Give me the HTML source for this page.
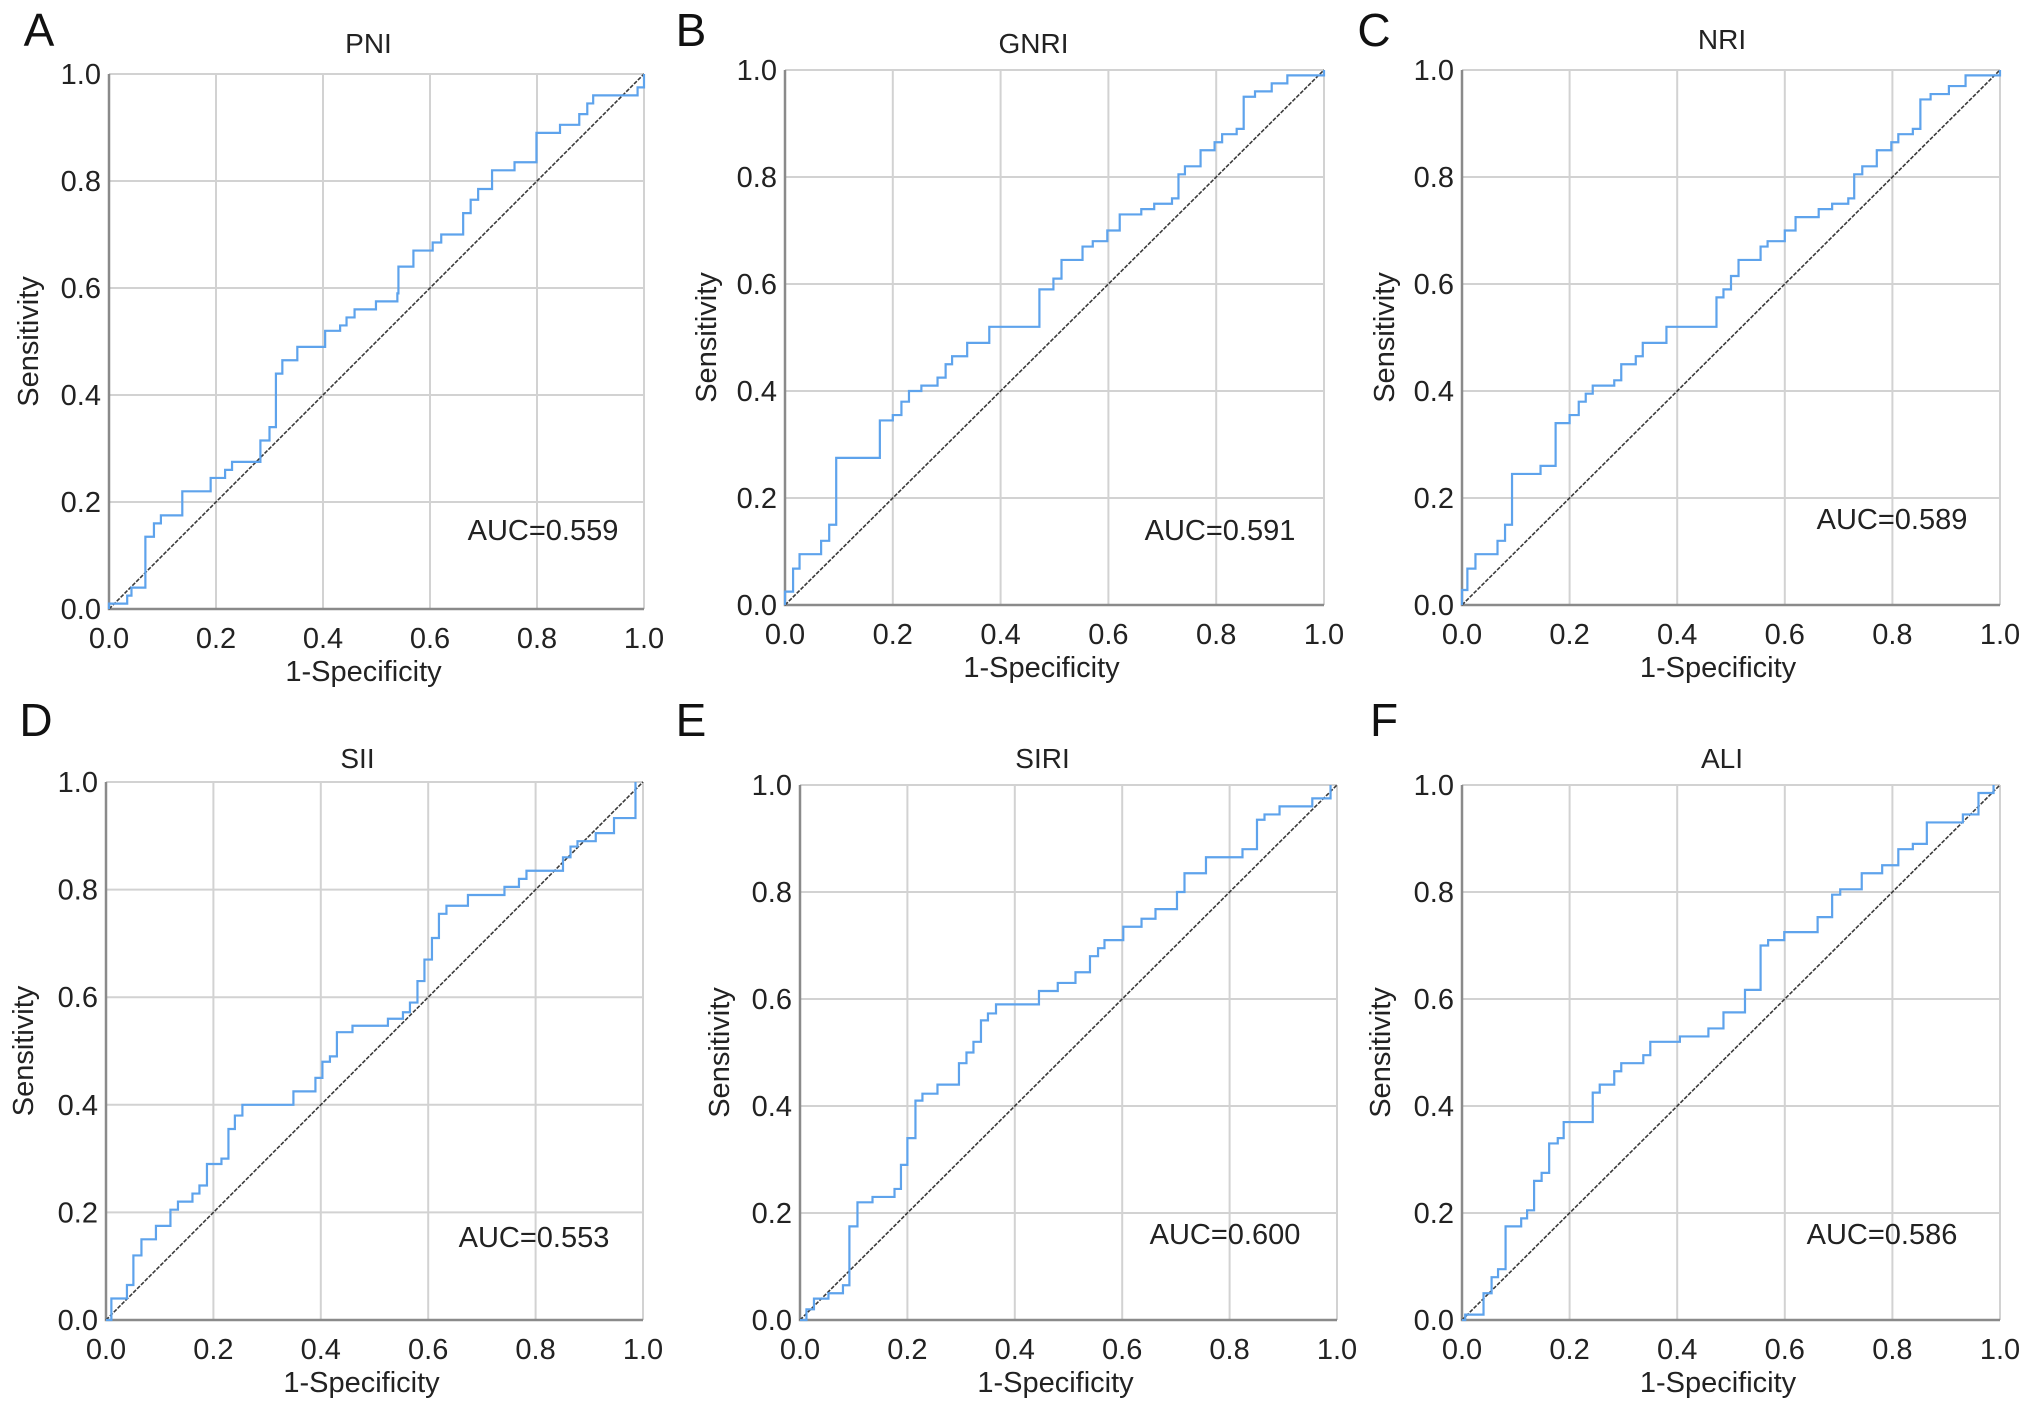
<!DOCTYPE html>
<html><head><meta charset="utf-8">
<style>
html,body{margin:0;padding:0;background:#fff;}
svg{display:block;font-family:"Liberation Sans",Arial,sans-serif;}
</style></head>
<body>
<svg id="fig" width="2032" height="1408" viewBox="0 0 2032 1408" xmlns="http://www.w3.org/2000/svg"></svg>
<script>
// ---- data (1-specificity / sensitivity step vertices) ----
const ticks = [0, 0.2, 0.4, 0.6, 0.8, 1.0];
const tickLabels = ["0.0","0.2","0.4","0.6","0.8","1.0"];
const titles = ["PNI","GNRI","NRI","SII","SIRI","ALI"];
const letters = ["A","B","C","D","E","F"];
const aucLabels = ["AUC=0.559","AUC=0.591","AUC=0.589","AUC=0.553","AUC=0.600","AUC=0.586"];

const fprA = [0,0.034,0.042,0.068,0.084,0.097,0.137,0.19,0.217,0.23,0.283,0.3,0.312,0.324,0.352,0.404,0.432,0.444,0.459,0.499,0.539,0.541,0.569,0.605,0.621,0.662,0.676,0.69,0.716,0.758,0.799,0.843,0.879,0.894,0.905,0.988,1.0];
const tprA = [0.01,0.025,0.04,0.135,0.16,0.175,0.22,0.245,0.26,0.275,0.315,0.34,0.44,0.465,0.49,0.52,0.53,0.545,0.56,0.575,0.59,0.64,0.67,0.685,0.70,0.74,0.765,0.785,0.82,0.835,0.89,0.905,0.925,0.945,0.96,0.975,1.0];

const fprB = [0,0.015,0.027,0.067,0.082,0.095,0.176,0.2,0.216,0.23,0.253,0.283,0.298,0.31,0.338,0.379,0.472,0.498,0.513,0.552,0.571,0.598,0.621,0.661,0.685,0.718,0.73,0.742,0.771,0.797,0.811,0.838,0.851,0.872,0.903,0.932,1.0];
const tprB = [0.025,0.068,0.095,0.12,0.15,0.275,0.345,0.355,0.38,0.40,0.41,0.425,0.45,0.465,0.49,0.52,0.59,0.61,0.645,0.67,0.68,0.70,0.73,0.74,0.75,0.76,0.805,0.82,0.85,0.865,0.88,0.89,0.95,0.96,0.975,0.99,1.0];

const fprC = [0,0.01,0.025,0.066,0.08,0.093,0.146,0.174,0.2,0.217,0.23,0.243,0.283,0.296,0.323,0.336,0.38,0.473,0.486,0.5,0.514,0.555,0.568,0.6,0.62,0.663,0.688,0.718,0.729,0.744,0.771,0.798,0.811,0.838,0.852,0.871,0.905,0.936,1.0];
const tprC = [0.028,0.068,0.095,0.12,0.15,0.245,0.26,0.34,0.355,0.38,0.395,0.41,0.42,0.45,0.465,0.49,0.52,0.575,0.59,0.615,0.645,0.67,0.68,0.70,0.725,0.74,0.75,0.76,0.805,0.82,0.85,0.865,0.88,0.89,0.945,0.955,0.97,0.99,1.0];

const fprD = [0,0.01,0.039,0.051,0.066,0.093,0.12,0.134,0.161,0.174,0.188,0.215,0.228,0.24,0.254,0.349,0.39,0.403,0.417,0.43,0.459,0.525,0.553,0.566,0.58,0.593,0.607,0.62,0.634,0.674,0.742,0.769,0.783,0.851,0.865,0.878,0.912,0.946,0.986];
const tprD = [0,0.04,0.065,0.12,0.15,0.175,0.205,0.22,0.235,0.25,0.29,0.30,0.355,0.38,0.40,0.425,0.45,0.48,0.49,0.535,0.547,0.56,0.572,0.59,0.63,0.67,0.71,0.755,0.77,0.79,0.805,0.82,0.835,0.86,0.88,0.89,0.905,0.933,1.0];

const fprE = [0,0.012,0.026,0.053,0.08,0.092,0.107,0.135,0.176,0.188,0.2,0.215,0.228,0.256,0.296,0.31,0.323,0.337,0.35,0.365,0.445,0.48,0.513,0.54,0.555,0.567,0.602,0.636,0.662,0.702,0.716,0.756,0.824,0.851,0.865,0.893,0.954,0.988];
const tprE = [0,0.02,0.04,0.05,0.065,0.175,0.22,0.23,0.245,0.29,0.34,0.41,0.423,0.44,0.48,0.50,0.52,0.56,0.573,0.59,0.615,0.63,0.65,0.68,0.695,0.71,0.735,0.75,0.768,0.80,0.835,0.865,0.88,0.935,0.945,0.96,0.975,1.0];

const fprF = [0,0.006,0.04,0.055,0.067,0.081,0.11,0.121,0.134,0.148,0.162,0.178,0.189,0.243,0.256,0.283,0.296,0.337,0.35,0.405,0.458,0.486,0.526,0.555,0.569,0.599,0.661,0.688,0.703,0.743,0.781,0.811,0.838,0.864,0.931,0.96,0.988];
const tprF = [0,0.01,0.05,0.08,0.095,0.175,0.19,0.205,0.26,0.275,0.33,0.34,0.37,0.425,0.44,0.465,0.48,0.495,0.52,0.53,0.545,0.575,0.617,0.70,0.71,0.725,0.753,0.795,0.805,0.835,0.85,0.88,0.89,0.93,0.945,0.985,1.0];

const seriesFpr = [fprA,fprB,fprC,fprD,fprE,fprF];
const seriesTpr = [tprA,tprB,tprC,tprD,tprE,tprF];

// ---- layout ----
const panels = [
 {x0:109,x1:644,y0:74,y1:609,titleY:53,titleDx:-8,ylabX:28,aucX:543,aucY:540,letX:39,letY:46},
 {x0:785,x1:1324,y0:70,y1:605,titleY:53,titleDx:-21,ylabX:706,aucX:1220,aucY:540,letX:691,letY:46},
 {x0:1462,x1:2000,y0:70,y1:605,titleY:49,titleDx:-9,ylabX:1384,aucX:1892,aucY:529,letX:1374,letY:46},
 {x0:106,x1:643,y0:782,y1:1320,titleY:768,titleDx:-17,ylabX:23,aucX:534,aucY:1247,letX:36,letY:736},
 {x0:800,x1:1337,y0:785,y1:1320,titleY:768,titleDx:-26,ylabX:719,aucX:1225,aucY:1244,letX:691,letY:736},
 {x0:1462,x1:2000,y0:785,y1:1320,titleY:768,titleDx:-9,ylabX:1380,aucX:1882,aucY:1244,letX:1384,letY:736}
];
const NS="http://www.w3.org/2000/svg";
const svg=document.getElementById('fig');
function mk(tag,attrs,parent){const e=document.createElementNS(NS,tag);for(const k in attrs)e.setAttribute(k,attrs[k]);parent.appendChild(e);return e;}

panels.forEach((p,i)=>{
  const sx=v=>p.x0+v*(p.x1-p.x0);
  const sy=v=>p.y1-v*(p.y1-p.y0);
  const g=mk('g',{},svg);
  
  
  mk('rect',{x:p.x0,y:p.y0,width:p.x1-p.x0,height:p.y1-p.y0,fill:'#fff'},g);
  ticks.forEach((t,k)=>{
    const gv=mk('line',{x1:sx(t),x2:sx(t),y1:p.y0,y2:p.y1,stroke:'#d2d2d2','stroke-width':2},g);
    
    
    const gh=mk('line',{x1:p.x0,x2:p.x1,y1:sy(t),y2:sy(t),stroke:'#d2d2d2','stroke-width':2},g);
    
    
    const xt=mk('text',{x:sx(t),y:p.y1+39,'font-size':29,'text-anchor':'middle',fill:'#222'},g);
    xt.textContent=tickLabels[k];
    
    
    const yt=mk('text',{x:p.x0-8,y:sy(t)+10,'font-size':29,'text-anchor':'end',fill:'#222'},g);
    yt.textContent=tickLabels[k];
    
    
  });
  const ax=mk('path',{d:`M${p.x0} ${p.y0} V${p.y1} H${p.x1}`,fill:'none',stroke:'#8a8a8a','stroke-width':2.5},g);
  
  
  const diag=mk('line',{x1:sx(0),y1:sy(0),x2:sx(1),y2:sy(1),stroke:'#3a3a3a','stroke-width':1.6,'stroke-dasharray':'4 1.5'},g);
  
  
  const fp=seriesFpr[i], tp=seriesTpr[i];
  let d=`M${sx(0)} ${sy(0)}`; let prev=0;
  for(let j=0;j<fp.length;j++){d+=` L${sx(fp[j])} ${sy(prev)} L${sx(fp[j])} ${sy(tp[j])}`;prev=tp[j];}
  const c=mk('path',{d:d,fill:'none',stroke:'#5ea3ec','stroke-width':2.2},g);
  
  
  const tt=mk('text',{x:(p.x0+p.x1)/2+p.titleDx,y:p.titleY,'font-size':28,'text-anchor':'middle',fill:'#222'},g);
  tt.textContent=titles[i];
  
  
  const xl=mk('text',{x:(p.x0+p.x1)/2-13,y:p.y1+72,'font-size':29,'text-anchor':'middle',fill:'#222'},g);
  xl.textContent='1-Specificity';
  
  
  const cy=(p.y0+p.y1)/2;
  const yl=mk('text',{x:p.ylabX+10,y:cy,'font-size':29,'text-anchor':'middle',fill:'#222',transform:`rotate(-90 ${p.ylabX+10} ${cy})`},g);
  yl.textContent='Sensitivity';
  
  
  const au=mk('text',{x:p.aucX,y:p.aucY,'font-size':29,'text-anchor':'middle',fill:'#222'},g);
  au.textContent=aucLabels[i];
  
  
  const le=mk('text',{x:p.letX,y:p.letY,'font-size':46,'text-anchor':'middle',fill:'#111'},g);
  le.textContent=letters[i];
  
  
});
</script>
</body></html>
